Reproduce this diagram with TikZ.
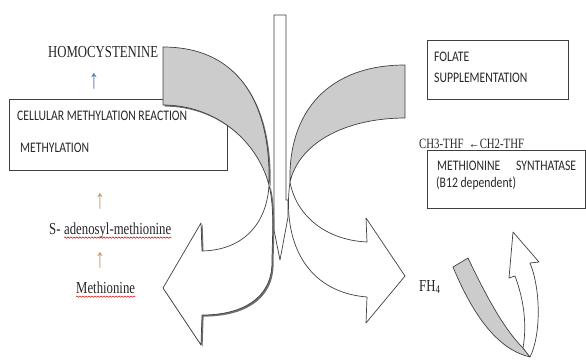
\documentclass[tikz,border=0pt]{standalone}
\usepackage{fontspec}
\setmainfont[FakeStretch=0.76]{Liberation Serif}
\newfontfamily\boxfont[FakeStretch=0.8]{Carlito}
\usetikzlibrary{positioning, decorations.pathmorphing}

\definecolor{bandgray}{RGB}{204,204,204}
\definecolor{edgegray}{RGB}{64,64,64}
\definecolor{shadowgray}{RGB}{110,110,110}
\definecolor{boxtext}{RGB}{40,40,40}
\definecolor{upblue}{RGB}{84,120,176}
\definecolor{uptan}{RGB}{196,154,108}

\tikzset{
  textbox/.style={draw=edgegray, line width=0.9pt, anchor=north west},
  sans label/.style={font=\boxfont\fontsize{14.6}{16}\selectfont, text=boxtext, inner sep=0pt, anchor=base west},
  serif label/.style={font=\fontsize{16.8}{18}\selectfont, text=black!85, inner sep=0pt, anchor=base west},
  up sign/.style={font=\fontsize{27}{28}\selectfont, inner sep=0pt},
  ribbon/.style={draw=edgegray, line width=0.7pt, fill=bandgray, line join=round},
  ribbon back/.style={ribbon, fill=white},
  spell/.style={draw=red!85!black, line width=0.45pt, decorate,
    decoration={snake, amplitude=0.7pt, segment length=3pt}}
}

\begin{document}
\begin{tikzpicture}[x=1pt, y=-1pt]
    \useasboundingbox (0,0) rectangle (586,360);

    % boxes
    \node [textbox, minimum width=218pt, minimum height=71pt] (cmr-box) at (9,99) {};
    \node [textbox, minimum width=141pt, minimum height=59pt] (folate-box) at (427,40) {};
    \node [textbox, minimum width=158pt, minimum height=58pt] (ms-box) at (427,150) {};

    % centre stem
    \draw [ribbon back] (274,15) -- (286,15) -- (286,200) -- (288,200) -- (288,217)
        -- (280,260) -- (274,230) -- cycle;

    % left ribbon arrow, with its shadow
    \begin{scope}[shift={(1.6,1.6)}]
      \fill [shadowgray] (163,47) .. controls (240,47) and (271,105) .. (269,185)
          .. controls (275,210) and (272,240) .. (272,262)
          .. controls (272,300) and (240,315) .. (202,315)
          -- (201,345) -- (163,288) -- (201,223) -- (202,251)
          .. controls (245,250) and (267,222) .. (269,185)
          .. controls (257,140) and (215,105) .. (163,105) -- cycle;
    \end{scope}
    \draw [ribbon] (163,47) .. controls (240,47) and (271,105) .. (269,185)
        .. controls (257,140) and (215,105) .. (163,105) -- cycle;
    \draw [ribbon back] (269,185) .. controls (267,222) and (245,250) .. (202,251)
        -- (201,223) -- (163,288) -- (201,345) -- (202,315)
        .. controls (240,315) and (272,300) .. (272,262)
        .. controls (272,240) and (275,210) .. (269,185);

    % right ribbon arrow
    \draw [ribbon] (405,65) .. controls (330,65) and (288,110) .. (290,182)
        .. controls (300,140) and (350,118) .. (405,118) -- cycle;
    \draw [ribbon back] (290,182) .. controls (296,215) and (325,240) .. (367,242)
        -- (366,218) -- (405,276) -- (366,323) -- (367,297)
        .. controls (305,292) and (282,240) .. (290,182);

    % small turning arrow
    \draw [ribbon] (453,267) .. controls (475,320) and (500,350) .. (530,357)
        -- (523,348) .. controls (505,330) and (488,300) .. (468,258) -- cycle;
    \draw [ribbon back] (530,357) .. controls (541,335) and (541,290) .. (530,263)
        -- (539,262) -- (513,232) -- (509,278) -- (515,276)
        .. controls (524,300) and (527,325) .. (523,348) -- cycle;

    % left column
    \node [serif label] (homocys) at (48,57) {HOMOCYSTENINE};
    \node [up sign, text=upblue] (up-homocys) at (94,81) {↑};
    \node [sans label] (cmr-1) at (17,120) {CELLULAR METHYLATION REACTION};
    \node [sans label] (cmr-2) at (20,152) {METHYLATION};
    \foreach \y [count=\i] in {201,260}
      \node [up sign, text=uptan] (up-\i) at (100,\y) {↑};
    \node [serif label] (sam-prefix) at (49,234) {S-};
    \node [serif label, base right=3.2pt of sam-prefix] (sam) {adenosyl-methionine};
    \node [serif label] (met) at (76,293) {Methionine};
    \draw [spell] ([yshift=-3.6pt]sam.base west) -- ([yshift=-3.6pt]sam.base east);
    \draw [spell] ([yshift=-3.6pt]met.base west) -- ([yshift=-3.6pt]met.base east);

    % right column
    \node [sans label] (folate-1) at (434,61) {FOLATE};
    \node [sans label] (folate-2) at (434,82) {SUPPLEMENTATION};
    \node [serif label, font=\fontsize{14.2}{15}\selectfont] (thf) at (419,148) {CH3-THF\ \ ←CH2-THF};
    \node [sans label] (ms-1) at (437,170) {METHIONINE};
    \node [sans label] (ms-2) at (516,170) {SYNTHATASE};
    \node [sans label] (ms-3) at (436,187) {(B12 dependent)};
    \node [serif label] (fh4) at (419,291) {FH\textsubscript{4}};

\end{tikzpicture}
\end{document}
